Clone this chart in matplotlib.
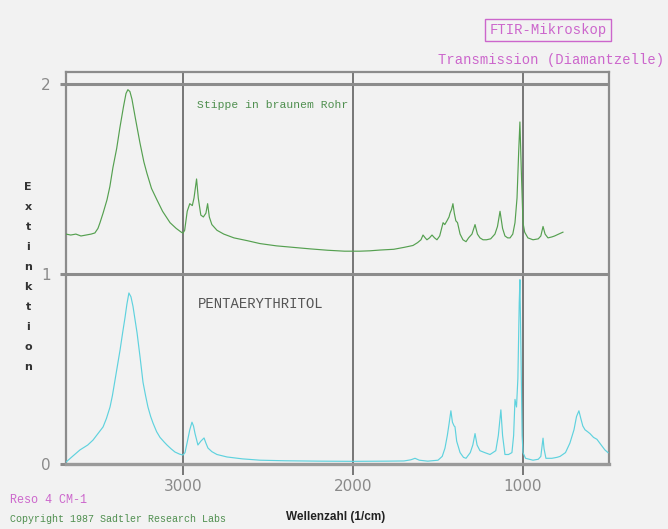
import matplotlib
matplotlib.use("Agg")
import matplotlib.pyplot as plt

# Sample spectrum (brown tube spot), absorbance vs. wavenumber
green_wn = [3688, 3660, 3630, 3600, 3570, 3540, 3518, 3500, 3488, 3470, 3447, 3430,
            3412, 3390, 3371, 3350, 3335, 3324, 3312, 3300, 3280, 3253, 3230, 3212,
            3185, 3153, 3120, 3076, 3040, 3010, 3000, 2990, 2975, 2960, 2945, 2935,
            2920, 2910, 2895, 2880, 2865, 2855, 2845, 2830, 2800, 2760, 2700, 2620,
            2547, 2450, 2350, 2250, 2150, 2050, 1959, 1900, 1841, 1760, 1700, 1647,
            1620, 1600, 1588, 1575, 1565, 1550, 1535, 1520, 1506, 1490, 1470, 1460,
            1447, 1435, 1429, 1420, 1412, 1404, 1395, 1385, 1370, 1353, 1335, 1320,
            1300, 1282, 1268, 1253, 1235, 1215, 1190, 1165, 1150, 1135, 1120, 1106,
            1090, 1076, 1060, 1047, 1035, 1025, 1018, 1010, 1000, 990, 971, 941,
            910, 895, 882, 870, 853, 830, 814, 790, 765]
green_abs = [1.21, 1.205, 1.21, 1.20, 1.205, 1.21, 1.216, 1.24, 1.27, 1.32, 1.39, 1.46,
             1.56, 1.66, 1.77, 1.88, 1.95, 1.97, 1.96, 1.92, 1.82, 1.69, 1.59, 1.53,
             1.45, 1.39, 1.33, 1.27, 1.24, 1.22, 1.215, 1.23, 1.33, 1.37, 1.36, 1.40,
             1.50, 1.40, 1.31, 1.30, 1.32, 1.37, 1.30, 1.26, 1.23, 1.21, 1.19, 1.175,
             1.16, 1.148, 1.14, 1.132, 1.125, 1.12, 1.12, 1.122, 1.126, 1.13, 1.14, 1.15,
             1.165, 1.18, 1.205, 1.19, 1.18, 1.19, 1.205, 1.19, 1.18, 1.20, 1.27, 1.26,
             1.28, 1.30, 1.32, 1.34, 1.37, 1.32, 1.28, 1.27, 1.21, 1.18, 1.17, 1.19,
             1.21, 1.26, 1.21, 1.19, 1.18, 1.18, 1.185, 1.21, 1.25, 1.33, 1.24, 1.20,
             1.19, 1.19, 1.21, 1.27, 1.40, 1.65, 1.80, 1.55, 1.27, 1.22, 1.19, 1.18,
             1.185, 1.20, 1.25, 1.21, 1.19, 1.195, 1.20, 1.21, 1.22]

# Reference spectrum: pentaerythritol
cyan_wn = [3688, 3650, 3606, 3560, 3529, 3500, 3470, 3450, 3429, 3415, 3400, 3385,
           3370, 3355, 3341, 3330, 3318, 3306, 3294, 3282, 3270, 3252, 3235, 3220,
           3206, 3190, 3176, 3155, 3135, 3110, 3094, 3070, 3047, 3020, 3000, 2988,
           2976, 2960, 2947, 2938, 2929, 2912, 2895, 2876, 2865, 2853, 2830, 2800,
           2741, 2650, 2547, 2400, 2200, 2000, 1800, 1700, 1660, 1635, 1610, 1560,
           1500, 1475, 1459, 1445, 1435, 1424, 1415, 1405, 1400, 1390, 1370, 1350,
           1335, 1310, 1295, 1282, 1270, 1253, 1225, 1194, 1160, 1145, 1130, 1120,
           1106, 1085, 1065, 1055, 1047, 1038, 1030, 1022, 1018, 1012, 1005, 1000,
           985, 941, 910, 895, 887, 882, 876, 865, 830, 800, 782, 750,
           724, 700, 685, 671, 660, 648, 635, 620, 606, 585, 565, 540,
           518, 500]
cyan_abs = [0.01, 0.04, 0.074, 0.10, 0.126, 0.16, 0.195, 0.24, 0.30, 0.36, 0.44, 0.52,
            0.60, 0.69, 0.77, 0.84, 0.90, 0.88, 0.83, 0.76, 0.69, 0.56, 0.43, 0.36,
            0.30, 0.25, 0.215, 0.17, 0.14, 0.115, 0.10, 0.08, 0.063, 0.052, 0.047, 0.06,
            0.11, 0.18, 0.22, 0.20, 0.16, 0.10, 0.12, 0.137, 0.11, 0.084, 0.065, 0.05,
            0.037, 0.027, 0.02, 0.017, 0.015, 0.014, 0.015, 0.016, 0.022, 0.03, 0.02, 0.015,
            0.02, 0.04, 0.083, 0.15, 0.21, 0.28, 0.22, 0.20, 0.196, 0.12, 0.06, 0.035,
            0.03, 0.06, 0.10, 0.16, 0.10, 0.07, 0.06, 0.05, 0.07, 0.15, 0.285, 0.15,
            0.05, 0.05, 0.06, 0.15, 0.34, 0.30, 0.45, 0.85, 0.97, 0.60, 0.15, 0.06,
            0.03, 0.02, 0.025, 0.04, 0.10, 0.136, 0.08, 0.03, 0.03, 0.035, 0.04, 0.06,
            0.11, 0.18, 0.25, 0.28, 0.24, 0.20, 0.18, 0.17, 0.16, 0.14, 0.13, 0.10,
            0.074, 0.06]

x_ticks = [3000, 2000, 1000]
x_tick_labels = ["3000", "2000", "1000"]
y_ticks = [0, 1, 2]
y_tick_labels = ["0", "1", "2"]

W, H = 668, 529
BG = "#f2f2f2"
fig = plt.figure(figsize=(W / 100, H / 100), dpi=100, facecolor=BG)

# plot frame in pixel coordinates: x 66..609, y 72..464
ax = fig.add_axes([66 / W, 1 - 464 / H, (609 - 66) / W, (464 - 72) / H], facecolor=BG)
ax.set_xlim(3688, 494)
ax.set_ylim(0, 2.063)

# grid: vertical wavenumber lines and horizontal absorbance lines
for xv in x_ticks:
    ax.axvline(xv, color="#555555", lw=1.1, zorder=1)
for yv in y_ticks[1:]:
    ax.axhline(yv, color="#8c8c8c", lw=2.2, zorder=1)

ax.plot(green_wn, green_abs, color="#55a050", lw=0.85, zorder=3)
ax.plot(cyan_wn, cyan_abs, color="#5fd2de", lw=0.85, zorder=3)

for side in ["left", "right", "top"]:
    ax.spines[side].set_color("#8c8c8c")
    ax.spines[side].set_linewidth(1.6)
ax.spines["bottom"].set_color("#9a9a9a")
ax.spines["bottom"].set_linewidth(2.4)

ax.set_xticks(x_ticks)
ax.set_xticklabels(x_tick_labels)
ax.set_yticks(y_ticks)
ax.set_yticklabels(y_tick_labels)
ax.tick_params(axis="x", direction="out", length=8, width=1.1, color="#555555",
               labelsize=11, labelcolor="#8a8a8a", pad=3)
ax.tick_params(axis="y", direction="out", length=4, width=2.2, color="#8c8c8c",
               labelsize=11, labelcolor="#8a8a8a", pad=7)

mono = "Liberation Mono"

ax.text(2915, 1.89, "Stippe in braunem Rohr", fontsize=8.2, family=mono,
        color="#4f8f4f", va="center", ha="left")
ax.text(2915, 0.84, "PENTAERYTHRITOL", fontsize=10, family=mono,
        color="#555555", va="center", ha="left")


def fy(ypx):
    return 1 - ypx / H


# header block
fig.text(548 / W, fy(30), "FTIR-Mikroskop", fontsize=10, family=mono,
         color="#cc66cc", ha="center", va="center",
         bbox=dict(boxstyle="square,pad=0.3", fc="none", ec="#cc66cc", lw=1.0))
fig.text(438 / W, fy(60), "Transmission (Diamantzelle)", fontsize=10, family=mono,
         color="#cc66cc", ha="left", va="center")

# vertical axis title, one letter per line
for i, ch in enumerate("Extinktion"):
    fig.text(28 / W, fy(187 + 20 * i), ch, fontsize=8, fontweight="bold",
             color="#333333", ha="center", va="center")

fig.text(336 / W, fy(517), "Wellenzahl (1/cm)", fontsize=8.5, fontweight="bold",
         family="Liberation Sans", color="#222222", ha="center", va="center")

fig.text(10 / W, fy(500), "Reso 4 CM-1", fontsize=8.5, family=mono,
         color="#cc66cc", ha="left", va="center")
fig.text(10 / W, fy(519), "Copyright 1987 Sadtler Research Labs", fontsize=7.2,
         family=mono, color="#4f8f4f", ha="left", va="center")

fig.savefig("out.png", dpi=100, facecolor=BG)
